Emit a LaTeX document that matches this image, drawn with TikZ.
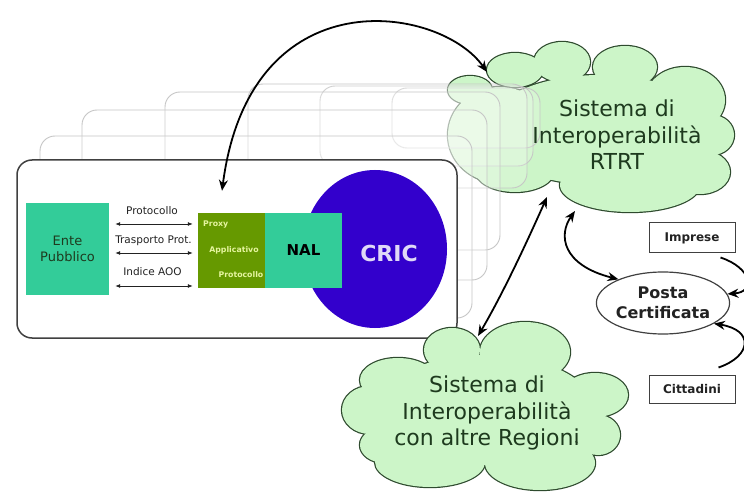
\documentclass[tikz,border=0pt]{standalone}
\usepackage{fontspec}
\setmainfont{DejaVu Sans}
\usetikzlibrary{shapes.geometric,arrows.meta,calc}
\definecolor{tealbox}{HTML}{33CC99}
\definecolor{olivebox}{HTML}{669900}
\definecolor{cricblue}{HTML}{3300CC}
\definecolor{cloudfill}{HTML}{CCF5C8}
\definecolor{cloudline}{HTML}{2E4A2E}
\definecolor{cloudtext}{HTML}{1E3A1E}
\definecolor{proxytext}{HTML}{E6F5A0}
\definecolor{framedark}{HTML}{404040}
\definecolor{darktext}{HTML}{222222}
\tikzset{
  cloudtxt/.style={align=center, inner sep=0pt, text=cloudtext, font=\fontsize{22}{26.5}\selectfont},
  colbox/.style={draw=none, inner sep=0pt},
  proxylbl/.style={inner sep=0pt, text=proxytext, font=\fontsize{7.8}{9}\selectfont\bfseries},
  arrlbl/.style={inner sep=0pt, text=darktext, font=\fontsize{10.5}{12}\selectfont},
  smallarr/.style={draw=darktext, line width=0.8pt, {Latex[length=5pt,width=4pt]}-{Latex[length=5pt,width=4pt]}},
  bigarr/.style={draw=black, line width=1.8pt, {Stealth[length=11pt,width=9pt]}-{Stealth[length=11pt,width=9pt]}},
  onearr/.style={draw=black, line width=1.8pt, -{Stealth[length=11pt,width=9pt]}},
  whitebox/.style={draw=framedark, line width=1pt, fill=white, inner sep=0pt, text=darktext, font=\fontsize{12}{14}\selectfont\bfseries},
  backframe/.style={draw=gray!45, line width=0.9pt, fill=white, fill opacity=0.18, rounded corners=15pt},
}
\begin{document}
\begin{tikzpicture}[x=1pt,y=-1pt]
\useasboundingbox (0,0) rectangle (744,494);
\fill[white] (0,0) rectangle (744,494);

% top cloud (RTRT)
\foreach \cx/\cy/\rx/\ry in {600/130/115/55, 500/135/52/48, 470/90/22/14, 515/70/28/17, 562/62/28/20, 625/67/32/21, 685/100/40/33, 712/135/22/20, 700/172/30/22, 630/185/70/27, 515/170/40/22}
  \draw[cloudline, line width=2.4pt] (\cx,\cy) ellipse [x radius=\rx pt, y radius=\ry pt];
\foreach \cx/\cy/\rx/\ry in {600/130/115/55, 500/135/52/48, 470/90/22/14, 515/70/28/17, 562/62/28/20, 625/67/32/21, 685/100/40/33, 712/135/22/20, 700/172/30/22, 630/185/70/27, 515/170/40/22}
  \fill[cloudfill] (\cx,\cy) ellipse [x radius=\rx pt, y radius=\ry pt];

% stacked frames behind
\draw[backframe] (392,88) rectangle (540,148);
\draw[backframe] (320,86) rectangle (533,166);
\draw[backframe] (248,84) rectangle (527,188);
\draw[backframe] (165,92) rectangle (500,250);
\draw[backframe] (82,110) rectangle (487,280);
\draw[backframe] (40,136) rectangle (472,318);
\draw[draw=framedark, line width=1.5pt, fill=white, rounded corners=15pt] (17,160) rectangle (457,338);

\node[cloudtxt] (rtrt) at (617,135) {Sistema di\\Interoperabilità\\RTRT};

% contents of the front frame
\node[ellipse, fill=cricblue, draw=none, minimum width=144pt, minimum height=158pt, inner sep=0pt] (cricc) at (375,249) {};
\node[inner sep=0pt, text=white!85!cricblue, font=\fontsize{22}{26}\selectfont\bfseries] (crict) at (389,253) {CRIC};

\node[colbox, fill=tealbox, minimum width=83pt, minimum height=92pt, align=center, text=cloudtext, font=\fontsize{13}{16}\selectfont] (ente) at (67.5,249) {Ente\\Pubblico};
\node[colbox, fill=olivebox, minimum width=67pt, minimum height=75pt] (proxy) at (231.5,250.5) {};
\node[colbox, fill=tealbox, minimum width=77pt, minimum height=75pt, text=black, font=\fontsize{15}{18}\selectfont\bfseries] (nal) at (303.5,250.5) {NAL};
\node[proxylbl, anchor=west] (pxa) at (203,224) {Proxy};
\node[proxylbl] (pxb) at (234,250) {Applicativo};
\node[proxylbl, anchor=east] (pxc) at (263.5,275) {Protocollo};

\node[arrlbl] (l1) at (152,211) {Protocollo};
\node[arrlbl] (l2) at (153.5,241) {Trasporto Prot.};
\node[arrlbl] (l3) at (152.5,272) {Indice AOO};
\draw[smallarr] ($(ente.east)+(6,-25)$) -- ($(proxy.west)+(-5,-26.5)$);
\draw[smallarr] ($(ente.east)+(6,4)$) -- ($(proxy.west)+(-5,2.5)$);
\draw[smallarr] ($(ente.east)+(6,37)$) -- ($(proxy.west)+(-5,35.5)$);

% bottom cloud
\foreach \cx/\cy/\rx/\ry in {485/410/110/55, 452/350/28/22, 525/352/45/30, 398/380/38/22, 370/410/28/24, 595/395/33/22, 598/435/22/20, 430/462/55/25, 540/463/55/27, 385/445/25/18}
  \draw[cloudline, line width=2.4pt] (\cx,\cy) ellipse [x radius=\rx pt, y radius=\ry pt];
\foreach \cx/\cy/\rx/\ry in {485/410/110/55, 452/350/28/22, 525/352/45/30, 398/380/38/22, 370/410/28/24, 595/395/33/22, 598/435/22/20, 430/462/55/25, 540/463/55/27, 385/445/25/18}
  \fill[cloudfill] (\cx,\cy) ellipse [x radius=\rx pt, y radius=\ry pt];
\node[cloudtxt] (altre) at (487,413) {Sistema di\\Interoperabilità\\con altre Regioni};

% posta certificata
\node[ellipse, draw=framedark, line width=1.2pt, fill=white, minimum width=126pt, minimum height=62pt, inner sep=0pt, align=center, text=darktext, font=\fontsize{16}{20}\selectfont\bfseries] (posta) at (663,303) {Posta\\Certificata};
\node[whitebox, minimum width=86pt, minimum height=30pt] (imp) at (692,238) {Imprese};
\node[whitebox, minimum width=86pt, minimum height=28pt] (cit) at (692,389) {Cittadini};

% cloud attachment points
\coordinate (rtrtW) at (487,72);
\coordinate (rtrtS1) at (547,197);
\coordinate (rtrtS2) at (575,211);
\coordinate (altreN) at (478,336);

% connectors
\draw[bigarr] ($(proxy.north)+(-9.5,-22)$) .. controls (250,-25) and (440,5) .. (rtrtW);
\draw[bigarr] (rtrtS1) .. controls (530,235) and (505,290) .. (altreN);
\draw[bigarr] (rtrtS2) .. controls (558,235) and (562,265) .. (posta.152);
\draw[onearr] ($(imp.south east)+(-15,4)$) .. controls (752,268) and (756,292) .. (posta.8);
\draw[onearr] ($(cit.north east)+(-17,-7)$) .. controls (752,356) and (754,330) .. (posta.-22);
\end{tikzpicture}
\end{document}
